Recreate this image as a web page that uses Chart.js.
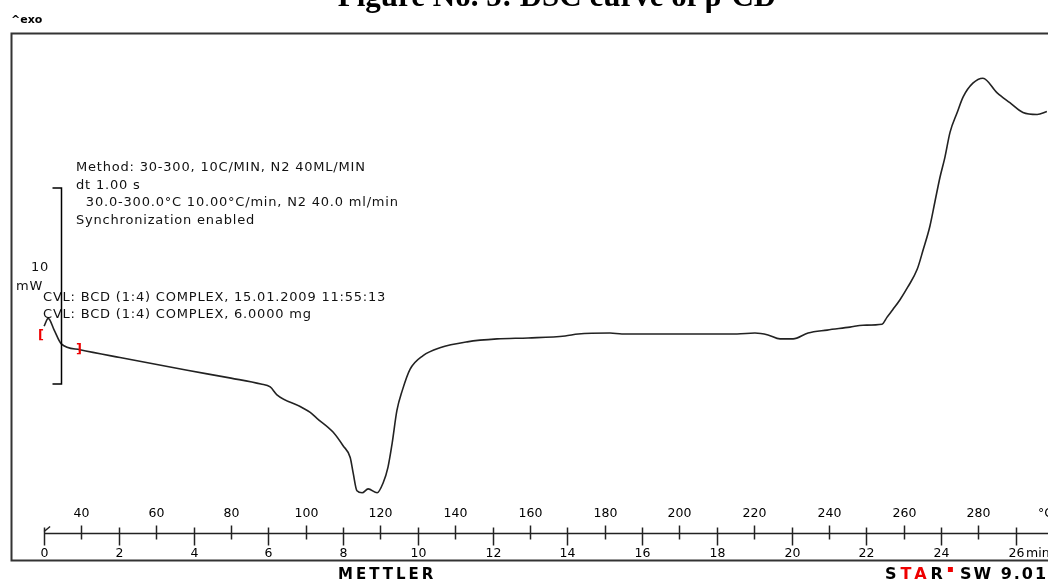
<!DOCTYPE html>
<html>
<head>
<meta charset="utf-8">
<script src="https://cdn.jsdelivr.net/npm/chart.js@4"></script>
<style>
  html, body { margin: 0; padding: 0; background: #fff; }
  #wrap { position: relative; width: 1048px; height: 581px; }
</style>
</head>
<body>
<div id="wrap"><canvas id="dsc" width="1048" height="581"></canvas></div>
<script>
// DSC curve, temperature in degC and heat flow in mW (arbitrary offset)
const temperature = [30.0, 31.1, 32.7, 34.6, 39.6, 50.3, 68.3, 80.0, 88.0, 90.5, 92.3, 98.5, 101.2, 103.0, 107.3, 110.0,
  111.9, 112.7, 113.7, 115.1, 116.7, 119.1, 120.7, 122.0, 123.1, 124.4, 125.8, 127.9, 131.4, 135.9,
  143.2, 151.2, 159.5, 169.4, 172.9, 181.4, 184.6, 215.4, 220.2, 223.7, 226.9, 230.4, 234.4, 239.5,
  245.6, 249.1, 254.2, 255.5, 257.1, 259.0, 261.1, 263.6, 265.2, 267.0, 268.4, 269.7, 271.0, 272.4,
  274.3, 275.9, 278.5, 281.2, 285.0, 288.4, 291.9, 295.7, 298.3];
const heatFlow = [13.0, 13.4, 12.8, 12.1, 11.8, 11.4, 10.75, 10.35, 10.05, 9.9, 9.5, 8.9, 8.6, 8.3, 7.6, 6.9,
  6.3, 5.5, 4.6, 4.5, 4.7, 4.5, 5.0, 5.8, 7.0, 8.7, 9.7, 10.8, 11.5, 11.9,
  12.2, 12.35, 12.4, 12.5, 12.6, 12.65, 12.6, 12.6, 12.65, 12.55, 12.35, 12.35, 12.65, 12.8,
  12.95, 13.05, 13.1, 13.45, 13.85, 14.35, 15.0, 15.9, 16.9, 18.1, 19.4, 20.6, 21.6, 22.9,
  23.9, 24.7, 25.4, 25.65, 24.9, 24.4, 23.9, 23.8, 23.95];

const tempTicks = [40, 60, 80, 100, 120, 140, 160, 180, 200, 220, 240, 260, 280];
const timeTicks = [0, 2, 4, 6, 8, 10, 12, 14, 16, 18, 20, 22, 24, 26];
const startTemp = 30;      // degC at t = 0
const heatingRate = 10;    // degC per min
const scaleBar = 10;       // mW
const scaleBarTop = 20.05; // mW level of top of the bar

const infoLines = [
  'Method: 30-300, 10C/MIN, N2 40ML/MIN',
  'dt 1.00 s',
  '  30.0-300.0°C 10.00°C/min, N2 40.0 ml/min',
  'Synchronization enabled'
];
const sampleLines = [
  'CVL: BCD (1:4) COMPLEX, 15.01.2009 11:55:13',
  'CVL: BCD (1:4) COMPLEX, 6.0000 mg'
];

const points = temperature.map((t, i) => ({ x: t, y: heatFlow[i] }));

const decor = {
  id: 'decor',
  afterDatasetsDraw(chart) {
    const ctx = chart.ctx;
    const xs = chart.scales.x, ys = chart.scales.y;
    ctx.save();
    ctx.fillStyle = '#000';
    ctx.strokeStyle = '#000';

    // title, cut at the top of the page
    ctx.font = 'bold 31px "Liberation Serif"';
    ctx.textAlign = 'center';
    ctx.textBaseline = 'alphabetic';
    ctx.fillText('Figure No. 5: DSC curve of β-CD', 557, 6);

    ctx.textAlign = 'left';
    ctx.font = 'bold 11px "DejaVu Sans"';
    ctx.fillText('^exo', 11, 23);

    // frame
    ctx.lineWidth = 2;
    ctx.strokeStyle = '#333';
    ctx.beginPath();
    ctx.moveTo(1060, 33.5); ctx.lineTo(11.5, 33.5); ctx.lineTo(11.5, 560.5); ctx.lineTo(1060, 560.5);
    ctx.stroke();

    // method text
    ctx.fillStyle = '#111';
    ctx.font = '13px "DejaVu Sans"';
    ctx.letterSpacing = '0.8px';
    ctx.textBaseline = 'middle';
    infoLines.forEach((s, i) => ctx.fillText(s, 76, 168 + i * 17.5));
    sampleLines.forEach((s, i) => ctx.fillText(s, 43, 298 + i * 17));
    ctx.fillText('10', 31, 268);
    ctx.fillText('mW', 16, 287);

    // scale bar
    const bx = Math.round(xs.getPixelForValue(34.6)) + 0.5;
    const y0 = ys.getPixelForValue(scaleBarTop);
    const y1 = ys.getPixelForValue(scaleBarTop - scaleBar);
    ctx.lineWidth = 1.5;
    ctx.strokeStyle = '#000';
    ctx.beginPath();
    ctx.moveTo(bx - 9, y0); ctx.lineTo(bx, y0); ctx.lineTo(bx, y1); ctx.lineTo(bx - 9, y1);
    ctx.stroke();

    // red integration limits
    ctx.fillStyle = '#e00';
    ctx.font = 'bold 13px "DejaVu Sans"';
    ctx.letterSpacing = '0px';
    ctx.fillText('[', 38, 336);
    ctx.fillText(']', 76, 350);

    // temperature / time axis
    const ay = 533.5;
    ctx.strokeStyle = '#222';
    ctx.lineWidth = 1.5;
    ctx.beginPath();
    ctx.moveTo(xs.getPixelForValue(startTemp), ay); ctx.lineTo(1048, ay);
    ctx.stroke();
    ctx.fillStyle = '#000';
    ctx.font = '12.5px "DejaVu Sans"';
    ctx.textAlign = 'center';
    tempTicks.forEach(t => {
      const px = Math.round(xs.getPixelForValue(t)) + 0.5;
      ctx.beginPath(); ctx.moveTo(px, ay - 8); ctx.lineTo(px, ay + 6); ctx.stroke();
      ctx.fillText(String(t), px, 514);
    });
    timeTicks.forEach(m => {
      const px = Math.round(xs.getPixelForValue(startTemp + heatingRate * m)) + 0.5;
      ctx.beginPath(); ctx.moveTo(px, ay - 6); ctx.lineTo(px, ay + 12); ctx.stroke();
      ctx.fillText(String(m), px, 554);
    });
    const x0 = xs.getPixelForValue(startTemp);
    ctx.beginPath(); ctx.moveTo(x0, ay - 2); ctx.lineTo(x0 + 6, ay - 7); ctx.stroke();
    ctx.textAlign = 'left';
    ctx.fillText('min', 1026, 554);
    ctx.fillText('°C', 1038, 514);

    // footer
    ctx.font = 'bold 15px "DejaVu Sans"';
    ctx.textAlign = 'left';
    ctx.letterSpacing = '3px';
    ctx.fillText('METTLER', 338, 575);
    ctx.font = 'bold 16px "DejaVu Sans"';
    ctx.letterSpacing = '4px';
    const parts = [['S', '#000'], ['TA', '#e00'], ['R', '#000']];
    let sx = 885;
    parts.forEach(([s, c]) => { ctx.fillStyle = c; ctx.fillText(s, sx, 575); sx += ctx.measureText(s).width; });
    ctx.fillStyle = '#e00';
    ctx.fillRect(sx + 1, 567, 5, 5);
    ctx.fillStyle = '#000';
    ctx.letterSpacing = '2px';
    ctx.fillText('SW 9.01', sx + 13, 575);
    ctx.restore();
  }
};

new Chart(document.getElementById('dsc'), {
  type: 'line',
  data: {
    datasets: [{
      data: points,
      borderColor: '#222',
      borderWidth: 1.6,
      pointRadius: 0,
      cubicInterpolationMode: 'monotone',
      fill: false
    }]
  },
  options: {
    responsive: false,
    animation: false,
    layout: { padding: 0 },
    plugins: { legend: { display: false }, tooltip: { enabled: false } },
    scales: {
      x: { type: 'linear', min: 18.2, max: 298.6, display: false },
      y: { type: 'linear', min: 0, max: 29.64, display: false }
    }
  },
  plugins: [decor]
});
</script>
</body>
</html>
